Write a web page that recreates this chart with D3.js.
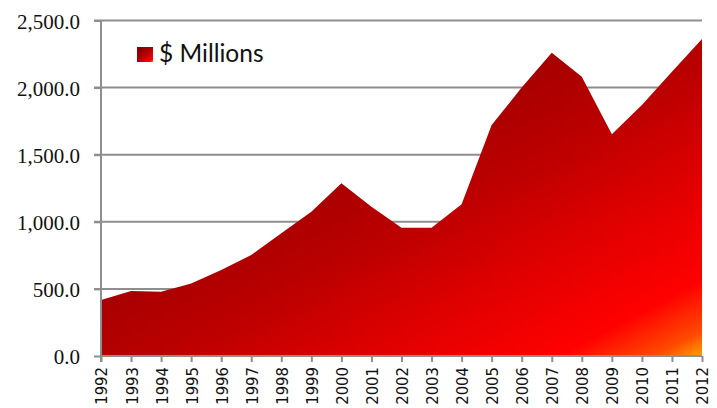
<!DOCTYPE html>
<html>
<head>
<meta charset="utf-8">
<script src="https://cdn.jsdelivr.net/npm/d3@7"></script>
<style>
  html, body { margin: 0; padding: 0; background: #fff; }
  svg { display: block; }
</style>
</head>
<body>
<svg id="chart" width="717" height="408"></svg>
<script>
// Annual values in $ millions, 1992–2012
const years = ["1992","1993","1994","1995","1996","1997","1998","1999","2000","2001","2002",
               "2003","2004","2005","2006","2007","2008","2009","2010","2011","2012"];
const millions = [418, 484, 479, 541, 641, 753, 914, 1075, 1287, 1113, 956,
                  956, 1130, 1721, 2000, 2260, 2081, 1652, 1870, 2118, 2362];
const yTicks = [0, 500, 1000, 1500, 2000, 2500];
const seriesName = "$ Millions";

const svg = d3.select("#chart");
const margin = { left: 101, right: 15, top: 20.5, bottom: 52 };
const W = 717, H = 408;

const x = d3.scalePoint().domain(years).range([margin.left, W - margin.right]);
const y = d3.scaleLinear().domain([0, 2500]).range([H - margin.bottom, margin.top]);

const axisGray = "#8e8e8e";

// Fire-style diagonal gradient
const defs = svg.append("defs");
function fireGradient(id) {
  const g = defs.append("linearGradient").attr("id", id)
    .attr("x1", 0).attr("y1", 0).attr("x2", 1).attr("y2", 1);
  [[0, "#7a0000"], [0.4, "#a60000"], [0.55, "#bb0000"], [0.7, "#dc0000"],
   [0.88, "#ff0000"], [0.96, "#ff4a00"], [1, "#ffa000"]]
    .forEach(([o, c]) => g.append("stop").attr("offset", o).attr("stop-color", c));
}
fireGradient("fire");

// Horizontal gridlines
svg.append("g").selectAll("line").data(yTicks.filter(d => d > 0)).join("line")
  .attr("x1", margin.left - 7).attr("x2", W - margin.right)
  .attr("y1", d => y(d)).attr("y2", d => y(d))
  .attr("stroke", axisGray).attr("stroke-width", 2);

// Area
const area = d3.area()
  .x((d, i) => x(years[i]))
  .y0(y(0))
  .y1(d => y(d));
svg.append("path").datum(millions)
  .attr("d", area)
  .attr("fill", "url(#fire)");

// Y axis
const yAxis = svg.append("g").attr("transform", `translate(${margin.left},0)`)
  .call(d3.axisLeft(y).tickValues(yTicks).tickSize(7).tickPadding(14)
    .tickFormat(d => d3.format(",.1f")(d)));
yAxis.select(".domain").attr("stroke", axisGray).attr("stroke-width", 2)
  .attr("d", `M0,${margin.top}V${y(0) + 6}`);
yAxis.selectAll(".tick line").attr("stroke", axisGray).attr("stroke-width", 2);
yAxis.selectAll(".tick text")
  .attr("font-family", "'Liberation Serif', 'Times New Roman', serif")
  .attr("font-size", 21).attr("fill", "#111").attr("dy", "0.36em");

// X axis
const xAxis = svg.append("g").attr("transform", `translate(0,${y(0)})`)
  .call(d3.axisBottom(x).tickSize(6).tickPadding(0));
xAxis.select(".domain").attr("stroke", axisGray).attr("stroke-width", 2)
  .attr("d", `M${margin.left},0H${W - margin.right}`);
xAxis.selectAll(".tick line").attr("stroke", axisGray).attr("stroke-width", 2);
xAxis.selectAll(".tick text")
  .attr("font-family", "'DejaVu Sans Condensed', 'DejaVu Sans', sans-serif")
  .attr("font-stretch", "condensed")
  .attr("font-size", 16.5).attr("fill", "#111")
  .attr("text-anchor", "end")
  .attr("transform", "rotate(-90)")
  .attr("x", -11).attr("y", 0).attr("dy", "0.36em");

// Legend
const legend = svg.append("g").attr("transform", "translate(137,47)");
legend.append("rect").attr("width", 16).attr("height", 15).attr("fill", "url(#fire)");
legend.append("text").attr("x", 22).attr("y", 15)
  .attr("font-family", "Lato, 'Open Sans', sans-serif")
  .attr("font-size", 24.5).attr("fill", "#111")
  .text(seriesName);
</script>
</body>
</html>
